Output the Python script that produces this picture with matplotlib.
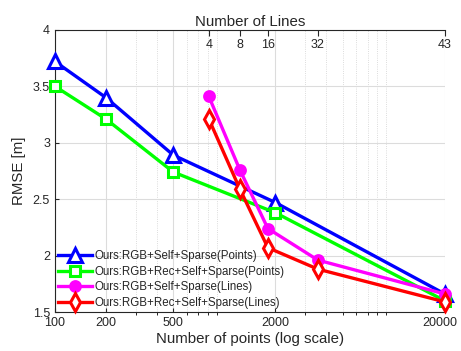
import matplotlib.pyplot as plt
from matplotlib.ticker import FixedLocator, NullFormatter
from matplotlib.transforms import ScaledTranslation

plt.rcParams['font.family'] = ['Liberation Sans', 'DejaVu Sans']

# number of points (bottom axis) for the point-based runs
n_points = [100, 200, 500, 2000, 20000]
rmse_self_pts = [3.72, 3.40, 2.89, 2.47, 1.66]
rmse_rec_pts = [3.50, 3.21, 2.74, 2.38, 1.60]

# number of lines (top axis) and where each sits on the points axis
n_lines = [4, 8, 16, 32, 43]
lines_at_pts = [810, 1234, 1806, 3564, 20000]
rmse_self_lines = [3.41, 2.76, 2.24, 1.96, 1.66]
rmse_rec_lines = [3.21, 2.59, 2.07, 1.88, 1.59]

labels = ['Ours:RGB+Self+Sparse(Points)',
          'Ours:RGB+Rec+Self+Sparse(Points)',
          'Ours:RGB+Self+Sparse(Lines)',
          'Ours:RGB+Rec+Self+Sparse(Lines)']

txt = '#262626'
fig = plt.figure(figsize=(4.61, 3.51), dpi=100)
ax = fig.add_axes([0.119, 0.111, 0.846, 0.804])

kw = dict(lw=2.4, mew=2.2, zorder=3, clip_on=False)
ax.plot(n_points, rmse_self_pts, color='#0000ff', marker='^', ms=10,
        mfc='white', label=labels[0], **kw)
ax.plot(n_points, rmse_rec_pts, color='#00ff00', marker='s', ms=7,
        mfc='white', label=labels[1], **kw)
ax.plot(lines_at_pts, rmse_self_lines, color='#ff00ff', marker='o', ms=7,
        mfc='#ff00ff', label=labels[2], **kw)
ax.plot(lines_at_pts, rmse_rec_lines, color='#ff0000', marker='d', ms=9,
        mfc='white', label=labels[3], **kw)

ax.set_xscale('log')
ax.set_xlim(100, 20000)
ax.set_ylim(1.5, 4)
ax.xaxis.set_major_locator(FixedLocator(n_points))
ax.set_xticklabels([str(v) for v in n_points])
ax.set_yticks([1.5, 2, 2.5, 3, 3.5, 4])
ax.set_yticklabels(['1.5', '2', '2.5', '3', '3.5', '4'])
ax.xaxis.set_minor_formatter(NullFormatter())

ax.grid(True, which='major', color='#dcdcdc', lw=0.8)
ax.grid(True, which='minor', axis='x', color='#d0d0d0', lw=0.6, ls=':')
ax.set_axisbelow(True)

ax.tick_params(direction='in', colors=txt, labelsize=9, length=3)
ax.tick_params(which='minor', length=2)
for s in ['right', 'top']:
    ax.spines[s].set_visible(False)
for s in ['left', 'bottom']:
    ax.spines[s].set_color(txt)

# nudge the last label so it stays inside the figure
last = ax.get_xticklabels()[-1]
last.set_transform(last.get_transform() + ScaledTranslation(-0.05, 0, fig.dpi_scale_trans))

ax.set_xlabel('Number of points (log scale)', fontsize=10.8, color=txt, labelpad=2)
ax.set_ylabel('RMSE [m]', fontsize=10.8, color=txt, labelpad=5)

top = ax.twiny()
top.set_xscale('log')
top.set_xlim(ax.get_xlim())
top.xaxis.set_major_locator(FixedLocator(lines_at_pts))
top.xaxis.set_minor_locator(FixedLocator([]))
top.set_xticklabels([str(v) for v in n_lines])
top.tick_params(axis='x', direction='in', pad=-15, colors=txt, labelsize=9, length=4)
top.set_xlabel('Number of Lines', fontsize=10.8, color=txt, labelpad=3)
top.spines['top'].set_color(txt)
for s in ['right', 'left', 'bottom']:
    top.spines[s].set_visible(False)

ax.legend(loc='lower left', frameon=False, fontsize=8.3, handlelength=2.9,
          handletextpad=0.25, labelspacing=0.3, borderaxespad=0.1,
          borderpad=0.2, labelcolor=txt)

fig.savefig('out.png', dpi=100)
